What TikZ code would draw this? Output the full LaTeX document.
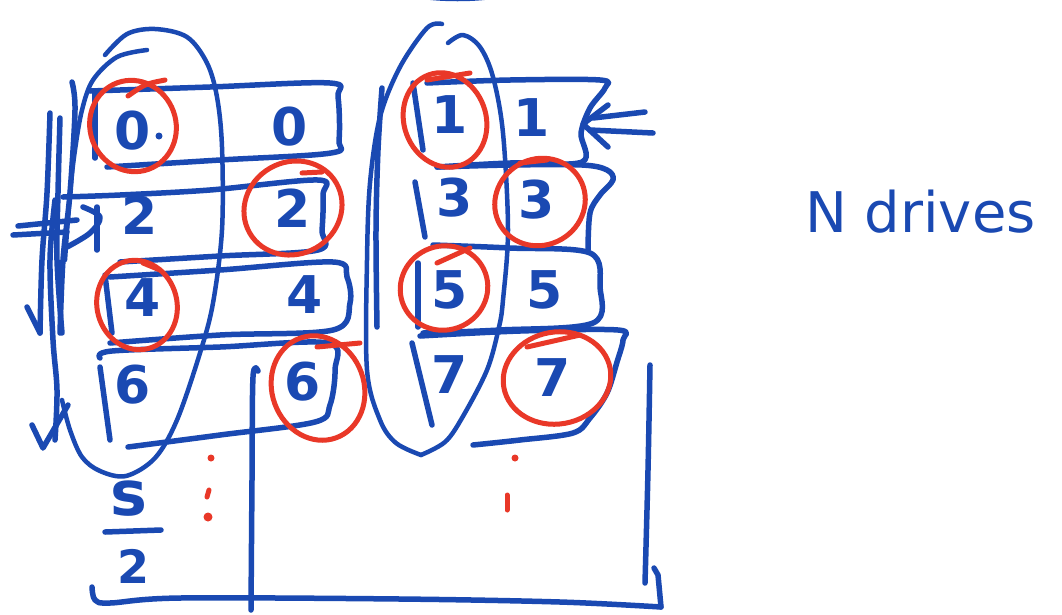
\documentclass[tikz,border=0pt]{standalone}
\usepackage{fontspec}
\newfontfamily\handfont{DejaVu Sans}
\definecolor{inkblue}{RGB}{26,73,178}
\definecolor{inkred}{RGB}{233,56,40}
\tikzset{
  ink/.style={draw=inkblue, line width=5.5pt, line cap=round, line join=round},
  red ink/.style={draw=inkred, line width=5pt, line cap=round, line join=round},
  digit/.style={text=inkblue, inner sep=0pt, font=\handfont\bfseries\fontsize{52}{52}\selectfont},
  hand text/.style={text=inkblue, inner sep=0pt, font=\handfont\fontsize{56}{56}\selectfont},
  smoothed/.style={smooth, tension=0.55}
}
\begin{document}
\begin{tikzpicture}[x=1pt,y=-1pt]
\useasboundingbox (0,0) rectangle (1062,614);
\fill[white] (0,0) rectangle (1062,614);

% ---------- digits, left group ----------
\node[digit] (a0L) at (133,131) {0};
\node[digit] (a0R) at (290,127) {0};
\node[digit] (a2L) at (140,215) {2};
\node[digit] (a2R) at (293,208) {2};
\node[digit] (a4L) at (143,298) {4};
\node[digit] (a4R) at (305,295) {4};
\node[digit] (a6L) at (133,385) {6};
\node[digit] (a6R) at (303,382) {6};
\fill[inkblue] (159,136) circle (3.5);

% ---------- digits, right group ----------
\node[digit] (b1L) at (450,115) {1};
\node[digit] (b1R) at (532,118) {1};
\node[digit] (b3L) at (455,198) {3};
\node[digit] (b3R) at (537,200) {3};
\node[digit] (b5L) at (450,290) {5};
\node[digit] (b5R) at (545,290) {5};
\node[digit] (b7L) at (450,375) {7};
\node[digit] (b7R) at (553,378) {7};

% ---------- row strips, left group ----------
\draw[ink] plot[smoothed] coordinates {(90,91) (210,87) (330,83) (338,97) (339,140) (331,153) (220,160) (107,167)};
\draw[ink] (95,93) -- (95,158);
\draw[ink] plot[smoothed] coordinates {(63,197) (120,195) (210,190) (318,180) (323,195) (322,230) (318,250) (220,256) (120,262)};
\draw[ink] plot[smoothed] coordinates {(110,277) (220,270) (333,262) (347,277) (350,303) (333,330) (220,335) (110,343)};
\draw[ink] (105,275) -- (112,333);
\draw[ink] plot[smoothed] coordinates {(100,358) (112,351) (220,347) (328,343) (335,370) (330,405) (315,422) (220,435) (128,447)};
\draw[ink] (100,367) -- (110,440);

% ---------- big loop, left group ----------
\draw[ink, line width=4.5pt] plot[smoothed] coordinates {(105,55) (127,34) (155,29) (187,37) (207,63) (217,97) (222,147) (222,230) (213,303) (200,353) (177,420) (155,458) (126,476) (100,471) (82,457) (70,430) (62,400)};
\draw[ink, line width=4.5pt] plot[smoothed] coordinates {(147,50) (117,57) (93,80) (82,110) (75,150) (70,193) (65,260)};

% ---------- down arrows and mark at the far left ----------
\draw[ink] plot[smoothed] coordinates {(72,82) (75,110) (70,193) (63,260) (60,333)};
\draw[ink] plot[smoothed] coordinates {(50,113) (47,193) (42,260) (40,333)};
\draw[ink] (27,307) -- (40,333);
\draw[ink] plot[smoothed] coordinates {(60,118) (58,193) (57,260) (62,333)};
\draw[ink] plot[smoothed] coordinates {(55,200) (50,260) (53,340) (57,390) (55,440)};
\draw[ink] (32,425) -- (43,448) -- (68,405);
\draw[ink] (18,226) -- (77,220);
\draw[ink] (13,235) -- (67,232);
\draw[ink] plot[smoothed] coordinates {(83,207) (100,217) (90,233) (67,247)};
\draw[ink] (97,207) -- (97,250);

% ---------- s/2 ----------
\node[digit, font=\handfont\bfseries\fontsize{62}{62}\selectfont] (sN) at (129,499) {s};
\draw[ink] (105,532) -- (161,530);
\node[digit, font=\handfont\bfseries\fontsize{46}{46}\selectfont] (sD) at (134,566) {2};

% ---------- bracket below ----------
\draw[ink] plot[smoothed] coordinates {(258,371) (253,377) (252,480) (251,610)};
\draw[ink] plot[smoothed] coordinates {(92,587) (95,600) (110,603) (180,598) (400,599) (560,602) (661,607)};
\draw[ink] (661,607) -- (658,575) -- (654,568);
\draw[ink] plot[smoothed] coordinates {(650,365) (648,470) (645,583)};

% ---------- right group ----------
\draw[ink, line width=4pt] (405,-6) .. controls (435,1) and (480,1) .. (510,-6);
\draw[ink, line width=4.5pt] plot[smoothed] coordinates {(442,24) (427,28) (400,67) (380,117) (370,183) (367,260) (367,370) (380,420) (396,443) (421,455)};
\draw[ink, line width=4.5pt] plot[smoothed] coordinates {(448,43) (463,35) (480,47) (493,77) (503,133) (508,230) (503,300) (499,327) (487,370) (462,418) (445,442) (421,455)};
\draw[ink] plot[smoothed] coordinates {(382,88) (378,150) (376,230) (377,327)};

\draw[ink] plot[smoothed] coordinates {(427,83) (510,80) (600,80) (605,88) (590,108) (581,133) (582,162) (510,163) (437,167)};
\draw[ink] (413,83) -- (423,150);
\draw[ink] plot[smoothed] coordinates {(437,167) (510,165) (582,165) (607,170) (613,180) (600,195) (590,213) (588,250)};
\draw[ink] (415,182) -- (425,237);
\draw[ink] plot[smoothed] coordinates {(433,245) (510,248) (590,253) (600,287) (593,323) (500,330) (423,333)};
\draw[ink] (418,263) -- (418,327);
\draw[ink] plot[smoothed] coordinates {(420,336) (520,331) (618,330) (623,340) (617,362) (607,393) (590,418) (573,433) (520,440) (473,445)};
\draw[ink] (412,343) -- (432,425);

% arrow pointing at the first strip
\coordinate (tip) at (583,124);
\draw[ink] (593,118) -- (645,112);
\draw[ink] (590,130) -- (653,133);
\draw[ink] (608,105) -- (tip) -- (608,147);

% ---------- red rings ----------
\draw[red ink, rotate around={20:(133,126)}] (133,126) ellipse [x radius=43, y radius=46];
\draw[red ink] (128,96) .. controls (145,84) .. (165,80);
\draw[red ink, rotate around={30:(293,208)}] (293,208) ellipse [x radius=50, y radius=46];
\draw[red ink] (302,173) -- (322,172);
\draw[red ink, rotate around={15:(137,305)}] (137,305) ellipse [x radius=40, y radius=45];
\draw[red ink] (143,263) -- (160,270);
\draw[red ink, rotate around={20:(318,388)}] (318,388) ellipse [x radius=46, y radius=53];
\draw[red ink] (317,347) -- (360,343);
\draw[red ink, rotate around={20:(445,120)}] (445,120) ellipse [x radius=41, y radius=48];
\draw[red ink] (427,80) -- (470,73);
\draw[red ink, rotate around={30:(540,202)}] (540,202) ellipse [x radius=46, y radius=43];
\draw[red ink] (520,163) -- (547,160);
\draw[red ink, rotate around={20:(444,288)}] (444,288) ellipse [x radius=44, y radius=42];
\draw[red ink] (437,263) -- (470,248);
\draw[red ink, rotate around={10:(557,378)}] (557,378) ellipse [x radius=54, y radius=46];
\draw[red ink] (527,347) -- (580,335);

% red dots
\fill[inkred] (211,458) circle (3.5);
\draw[red ink] (209,490) -- (207,497);
\fill[inkred] (208,517) circle (4.5);
\fill[inkred] (515,458) circle (3.5);
\draw[red ink] (507,495) -- (507,510);

% ---------- label ----------
\node[hand text, anchor=base west] (label) at (805,232) {N drives};
\end{tikzpicture}
\end{document}
